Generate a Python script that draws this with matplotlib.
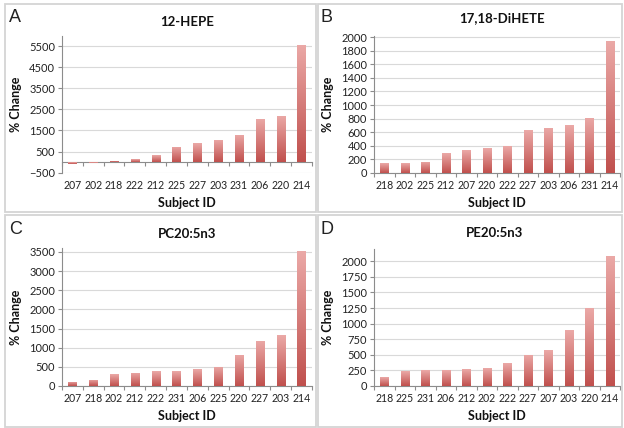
import matplotlib
matplotlib.use('Agg')
import matplotlib.pyplot as plt
import numpy as np
from matplotlib.patches import Rectangle
from matplotlib.colors import LinearSegmentedColormap

plt.rcParams['font.family'] = ['Lato', 'DejaVu Sans']

# ---- data ----
hepe_ids = ['207', '202', '218', '222', '212', '225', '227', '203', '231', '206', '220', '214']
hepe_vals = [-80, -20, 60, 130, 330, 720, 900, 1070, 1290, 2050, 2200, 5560]

dihete_ids = ['218', '202', '225', '212', '207', '220', '222', '227', '203', '206', '231', '214']
dihete_vals = [145, 145, 165, 290, 330, 360, 390, 625, 665, 700, 815, 1950]

pc_ids = ['207', '218', '202', '212', '222', '231', '206', '225', '220', '227', '203', '214']
pc_vals = [110, 160, 310, 350, 390, 390, 440, 500, 820, 1180, 1320, 3520]

pe_ids = ['218', '225', '231', '206', '212', '202', '222', '227', '207', '203', '220', '214']
pe_vals = [135, 230, 250, 250, 265, 280, 365, 500, 570, 900, 1250, 2090]

titles = ['12-HEPE', '17,18-DiHETE', 'PC20:5n3', 'PE20:5n3']
letters = ['A', 'B', 'C', 'D']
yticks_list = [list(range(-500, 6000, 1000)), list(range(0, 2001, 200)),
               list(range(0, 3501, 500)), list(range(0, 2001, 250))]
ylims = [(-500, 6000), (0, 2020), (0, 3600), (0, 2200)]

# ---- figure ----
W, H = 624, 428
fig = plt.figure(figsize=(W / 100, H / 100), dpi=100)

def rect(x0, ytop, x1, ybot):
    return [x0 / W, 1 - ybot / H, (x1 - x0) / W, (ybot - ytop) / H]

axes_px = [(62, 35.5, 312, 172.7), (374, 36.0, 620, 172.7),
           (62, 248.0, 312, 386.0), (374, 249.0, 620, 385.7)]
boxes = [(5, 4, 316, 212), (318, 4, 622, 212), (5, 215, 316, 427), (318, 215, 622, 427)]
title_pos = [(0.5, 0.098), (0.52, 0.131), (0.5, 0.10), (0.49, 0.12)]
letter_pos = [(9, 17), (321, 17), (9, 229), (321, 229)]

for (x0, y0, x1, y1) in boxes:
    fig.add_artist(Rectangle((x0 / W, 1 - y1 / H), (x1 - x0) / W, (y1 - y0) / H,
                             transform=fig.transFigure, fill=False,
                             edgecolor='#d4d4d4', linewidth=1.3))

cmap = LinearSegmentedColormap.from_list('grad', ['#c0504d', '#eba9a7'])
grad = np.linspace(0, 1, 256).reshape(-1, 1)

datasets = [(hepe_ids, hepe_vals), (dihete_ids, dihete_vals), (pc_ids, pc_vals), (pe_ids, pe_vals)]

for i, (ids, vals) in enumerate(datasets):
    ax = fig.add_axes(rect(*axes_px[i]))
    x = np.arange(len(ids))
    bars = ax.bar(x, vals, width=0.4, color='#d07573', zorder=2)
    for b in bars:
        bx, by = b.get_x(), b.get_y()
        bw, bh = b.get_width(), b.get_height()
        lo, hi = min(by, by + bh), max(by, by + bh)
        im = ax.imshow(grad, extent=[bx, bx + bw, lo, hi], origin='lower',
                       cmap=cmap, aspect='auto', zorder=3)
        im.set_clip_path(b)
    ax.set_xlim(-0.5, len(ids) - 0.5)
    ax.set_ylim(*ylims[i])
    ax.set_yticks(yticks_list[i])
    ax.yaxis.grid(True, color='#d9d9d9', linewidth=0.8, zorder=0)
    ax.set_axisbelow(True)
    for s in ['top', 'right']:
        ax.spines[s].set_visible(False)
    ax.spines['left'].set_color('#8c8c8c')
    ax.spines['left'].set_linewidth(0.8)
    ax.tick_params(axis='y', length=3, width=0.8, color='#8c8c8c', labelsize=8,
                   labelcolor='#222222', pad=2)
    ax.set_xticks(x)
    ax.set_xticklabels(ids)
    ax.tick_params(axis='x', which='major', length=0, labelsize=7.6, labelcolor='#222222', pad=5)
    boundaries = np.arange(len(ids) + 1) - 0.5
    if ylims[i][0] < 0:
        ax.spines['bottom'].set_visible(False)
        sec = ax.secondary_xaxis(0, transform=ax.transData)
        sec.set_xticks(boundaries)
        sec.set_xticklabels([])
        sec.spines['bottom'].set_color('#8c8c8c')
        sec.spines['bottom'].set_linewidth(0.8)
        sec.tick_params(axis='x', length=3, width=0.8, color='#8c8c8c')
    else:
        ax.spines['bottom'].set_color('#8c8c8c')
        ax.spines['bottom'].set_linewidth(0.8)
        ax.set_xticks(boundaries, minor=True)
        ax.tick_params(axis='x', which='minor', length=3, width=0.8, color='#8c8c8c')
    ax.set_ylabel('% Change', fontsize=9, fontweight='bold', color='#111111')
    ax.yaxis.set_label_coords((22 - axes_px[i][0]) / (axes_px[i][2] - axes_px[i][0]) if i % 2 == 0
                              else (334 - axes_px[i][0]) / (axes_px[i][2] - axes_px[i][0]), 0.5)
    ax.set_xlabel('Subject ID', fontsize=9, fontweight='bold', color='#111111')
    hh = axes_px[i][3] - axes_px[i][1]
    ax.xaxis.set_label_coords(0.5, -24.5 / hh)
    tx, ty = title_pos[i]
    ax.text(tx, 1 + ty, titles[i], transform=ax.transAxes, ha='center', va='center',
            fontsize=9.5, fontweight='bold', color='#111111')
    lx, ly = letter_pos[i]
    fig.text(lx / W, 1 - ly / H, letters[i], ha='left', va='center', fontsize=13,
             family=['Liberation Sans', 'DejaVu Sans'], color='#222222')

fig.savefig('out.png', dpi=100)
